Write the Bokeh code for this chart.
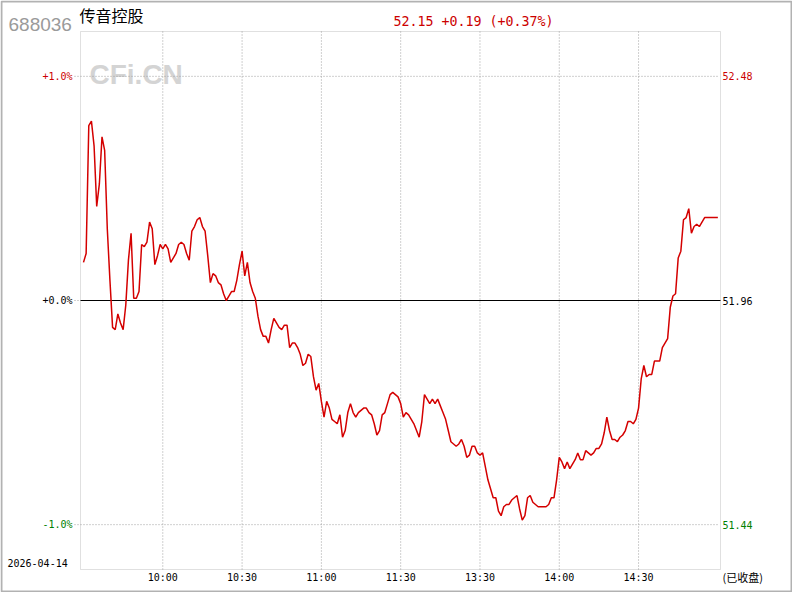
from bokeh.plotting import figure
from bokeh.models import Range1d, Label, BoxAnnotation, ColumnDataSource
from bokeh.core.properties import value
from bokeh.embed import file_html
from bokeh.resources import INLINE

# ---------------- data ----------------
stock_code = "688036"
stock_name = "传音控股"
trade_date = "2026-04-14"
status_text = "(已收盘)"
prev_close = 51.96

# percent change vs previous close, one value per minute (09:30 .. 11:30, 13:01 .. 15:00)
pct = [
    0.17, 0.21, 0.78, 0.80, 0.69, 0.42, 0.52, 0.73, 0.67, 0.32,
    0.09, -0.12, -0.13, -0.06, -0.10, -0.13, -0.02, 0.18, 0.30, 0.01,
    0.01, 0.04, 0.25, 0.24, 0.26, 0.35, 0.32, 0.16, 0.20, 0.25,
    0.23, 0.25, 0.23, 0.17, 0.19, 0.21, 0.25, 0.26, 0.25, 0.21,
    0.18, 0.31, 0.33, 0.36, 0.37, 0.33, 0.31, 0.20, 0.08, 0.12,
    0.11, 0.08, 0.07, 0.03, 0.00, 0.02, 0.04, 0.04, 0.09, 0.16,
    0.22, 0.11, 0.17, 0.08, 0.04, 0.01, -0.07, -0.13, -0.16, -0.16,
    -0.19, -0.13, -0.08, -0.10, -0.12, -0.13, -0.11, -0.11, -0.21, -0.19,
    -0.19, -0.21, -0.24, -0.29, -0.28, -0.24, -0.25, -0.34, -0.40, -0.37,
    -0.45, -0.52, -0.45, -0.48, -0.53, -0.54, -0.55, -0.51, -0.61, -0.58,
    -0.50, -0.46, -0.50, -0.52, -0.50, -0.49, -0.48, -0.48, -0.50, -0.51,
    -0.55, -0.60, -0.58, -0.51, -0.50, -0.46, -0.42, -0.41, -0.42, -0.43,
    -0.46, -0.52, -0.50, -0.51, -0.53, -0.55, -0.58, -0.61, -0.54, -0.42,
    -0.44, -0.46, -0.44, -0.46, -0.44, -0.47, -0.50, -0.53, -0.58, -0.63,
    -0.64, -0.65, -0.64, -0.62, -0.65, -0.70, -0.69, -0.65, -0.65, -0.68,
    -0.69, -0.68, -0.74, -0.80, -0.84, -0.88, -0.88, -0.94, -0.96, -0.92,
    -0.91, -0.91, -0.89, -0.88, -0.87, -0.93, -0.98, -0.96, -0.88, -0.87,
    -0.90, -0.91, -0.92, -0.92, -0.92, -0.92, -0.91, -0.88, -0.88, -0.80,
    -0.70, -0.72, -0.75, -0.72, -0.75, -0.73, -0.71, -0.68, -0.71, -0.71,
    -0.67, -0.68, -0.69, -0.68, -0.66, -0.66, -0.64, -0.59, -0.52, -0.58,
    -0.62, -0.62, -0.63, -0.61, -0.60, -0.58, -0.54, -0.54, -0.55, -0.53,
    -0.48, -0.35, -0.29, -0.34, -0.33, -0.33, -0.27, -0.27, -0.27, -0.21,
    -0.19, -0.17, -0.03, 0.02, 0.03, 0.19, 0.22, 0.36, 0.37, 0.41,
    0.30, 0.33, 0.34, 0.33, 0.35, 0.37, 0.37, 0.37, 0.37, 0.37, 0.37,
]
minutes = list(range(len(pct)))

time_tick_pos = [30, 60, 90, 120, 150, 180, 210]
time_tick_labels = ["10:00", "10:30", "11:00", "11:30", "13:30", "14:00", "14:30"]
pct_ticks = [1.0, 0.0, -1.0]
pct_tick_labels = ["+1.0%", "+0.0%", "-1.0%"]

# ---------------- derived values ----------------
last_price = round(prev_close * (1 + pct[-1] / 100.0), 2)
change = round(last_price - prev_close, 2)
change_pct = change / prev_close * 100.0
header_text = "%.2f %+.2f (%+.2f%%)" % (last_price, change, change_pct)
price_tick_labels = ["%.2f" % (prev_close * (1 + t / 100.0)) for t in pct_ticks]

RED = "#cc0000"
GREEN = "#008000"
LINE_RED = "#d40000"
GRID = "#a0a0a0"
MONO = "DejaVu Sans Mono"
CJK = "Noto Sans CJK SC"
tick_colors = [RED, "black", GREEN]

# ---------------- geometry ----------------
W, H = 792, 592
PX0, PX1, PY0, PY1 = 80, 720, 31, 569          # plot rectangle (pixels)
x0, x1 = -1.135, 241.0                          # data range shown in the plot rectangle
y0, y1 = -1.2, 1.2
kx = (x1 - x0) / (PX1 - PX0)
ky = (y1 - y0) / (PY1 - PY0)


def dx(X):
    return x0 + (X - PX0) * kx


def dy(Y):
    return y1 - (Y - PY0) * ky


p = figure(width=W, height=H, x_range=Range1d(dx(0), dx(W)), y_range=Range1d(dy(H), dy(0)),
           x_axis_type=None, y_axis_type=None,
           output_backend="svg", toolbar_location=None,
           min_border=0, min_border_left=0, min_border_right=0,
           min_border_top=0, min_border_bottom=0)
p.outline_line_color = None
p.background_fill_color = "white"
p.border_fill_color = "white"

# vertical dotted grid at time ticks
p.segment(x0=time_tick_pos, y0=[y0] * len(time_tick_pos), x1=time_tick_pos, y1=[y1] * len(time_tick_pos),
          line_color=GRID, line_dash="1 2", line_width=1)
# horizontal dotted grid at +-1%
p.segment(x0=[x0, x0], y0=[1.0, -1.0], x1=[dx(718), dx(718)], y1=[1.0, -1.0],
          line_color=GRID, line_dash="1 2", line_width=1)
# small dotted stubs left of the plot at each tick
p.segment(x0=[dx(74)] * 3, y0=pct_ticks, x1=[x0] * 3, y1=pct_ticks,
          line_color=GRID, line_dash="1 2", line_width=1)
# zero line
p.segment(x0=[x0], y0=[0.0], x1=[x1], y1=[0.0], line_color="black", line_width=1)

# plot rectangle outline
p.add_layout(BoxAnnotation(left=x0, right=x1, top=y1, bottom=y0, fill_alpha=0, fill_color=None,
                           line_color="#999999", line_width=1, level="underlay"))

# watermark
p.add_layout(Label(x=dx(89), y=dy(74), text="CFi.CN", text_align="left", text_baseline="alphabetic",
                   text_font="Liberation Sans", text_font_style="bold", text_font_size="28px",
                   text_color="#d4d4d4", level="underlay"))

# price line
p.line(minutes, pct, line_color=LINE_RED, line_width=1.5)

# y tick labels
left_src = ColumnDataSource(dict(x=[dx(72)] * 3, y=pct_ticks, text=pct_tick_labels, color=tick_colors))
p.text(x="x", y="y", text="text", text_color="color", source=left_src, text_align="right",
       text_baseline="middle", text_font=value(MONO), text_font_size="10px")
right_src = ColumnDataSource(dict(x=[dx(722)] * 3, y=pct_ticks, text=price_tick_labels, color=tick_colors))
p.text(x="x", y="y", text="text", text_color="color", source=right_src, text_align="left",
       text_baseline="middle", text_font=value(MONO), text_font_size="10px")

# time tick labels
p.text(x=time_tick_pos, y=[dy(577)] * len(time_tick_pos), text=time_tick_labels, text_align="center",
       text_baseline="middle", text_font=value(MONO), text_font_size="10px", text_color="black")

# header
p.text(x=[dx(8)], y=[dy(23.5)], text=[stock_code], text_align="left", text_baseline="alphabetic",
       text_font=value("Liberation Sans"), text_font_size="19px", text_color="#9a9a9a")
p.text(x=[dx(79)], y=[dy(14)], text=[stock_name], text_align="left", text_baseline="middle",
       text_font=value(CJK), text_font_size="16px", text_color="black")
p.text(x=[dx(393)], y=[dy(20.5)], text=[header_text], text_align="left", text_baseline="alphabetic",
       text_font=value(MONO), text_font_size="13.3px", text_color=RED)

# date and status
p.text(x=[dx(7)], y=[dy(562.5)], text=[trade_date], text_align="left", text_baseline="middle",
       text_font=value(MONO), text_font_size="10px", text_color="black")
p.text(x=[dx(722)], y=[dy(576)], text=[status_text], text_align="left", text_baseline="middle",
       text_font=value(CJK), text_font_size="11px", text_color="black")

# outer frame
p.add_layout(BoxAnnotation(left=dx(1), right=dx(W - 1), top=dy(1), bottom=dy(H - 1),
                           fill_alpha=0, fill_color=None, line_color="black", line_width=2,
                           level="overlay"))

open("out.html", "w").write(file_html(p, INLINE))
